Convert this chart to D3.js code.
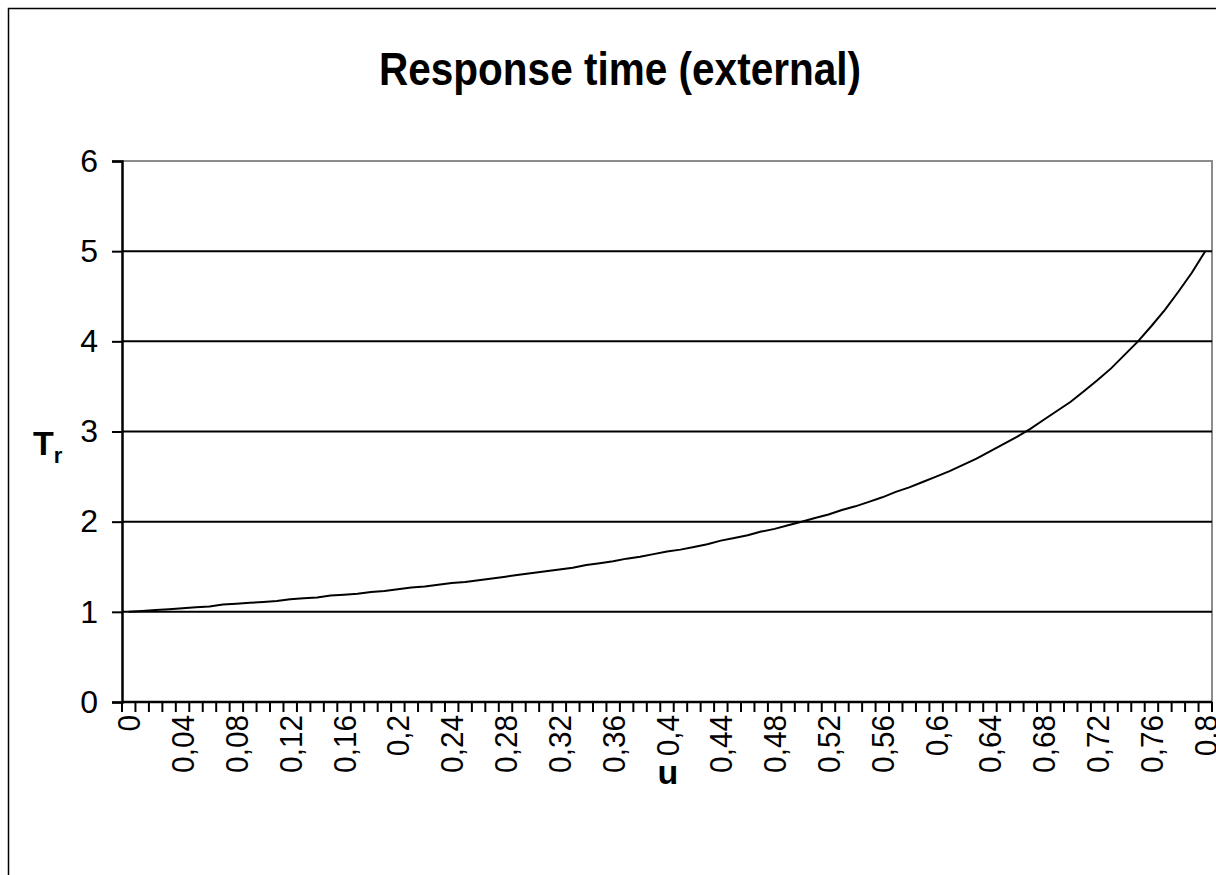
<!DOCTYPE html>
<html>
<head>
<meta charset="utf-8">
<script src="https://cdn.jsdelivr.net/npm/d3@7"></script>
<style>
  body { margin: 0; background: #fff; }
  svg { display: block; font-family: Arial, "Liberation Sans", sans-serif; }
</style>
</head>
<body>
<div id="chart"></div>
<script>
const utilisation = [
  0, 0.01, 0.02, 0.03, 0.04, 0.05, 0.06, 0.07, 0.08, 0.09,
  0.1, 0.11, 0.12, 0.13, 0.14, 0.15, 0.16, 0.17, 0.18, 0.19,
  0.2, 0.21, 0.22, 0.23, 0.24, 0.25, 0.26, 0.27, 0.28, 0.29,
  0.3, 0.31, 0.32, 0.33, 0.34, 0.35, 0.36, 0.37, 0.38, 0.39,
  0.4, 0.41, 0.42, 0.43, 0.44, 0.45, 0.46, 0.47, 0.48, 0.49,
  0.5, 0.51, 0.52, 0.53, 0.54, 0.55, 0.56, 0.57, 0.58, 0.59,
  0.6, 0.61, 0.62, 0.63, 0.64, 0.65, 0.66, 0.67, 0.68, 0.69,
  0.7, 0.71, 0.72, 0.73, 0.74, 0.75, 0.76, 0.77, 0.78, 0.79,
  0.8
];

const responseTime = [
  1.00, 1.01, 1.02, 1.03, 1.04, 1.05, 1.06, 1.08, 1.09, 1.10,
  1.11, 1.12, 1.14, 1.15, 1.16, 1.18, 1.19, 1.20, 1.22, 1.23,
  1.25, 1.27, 1.28, 1.30, 1.32, 1.33, 1.35, 1.37, 1.39, 1.41,
  1.43, 1.45, 1.47, 1.49, 1.52, 1.54, 1.56, 1.59, 1.61, 1.64,
  1.67, 1.69, 1.72, 1.75, 1.79, 1.82, 1.85, 1.89, 1.92, 1.96,
  2.00, 2.04, 2.08, 2.13, 2.17, 2.22, 2.27, 2.33, 2.38, 2.44,
  2.50, 2.56, 2.63, 2.70, 2.78, 2.86, 2.94, 3.03, 3.13, 3.23,
  3.33, 3.45, 3.57, 3.70, 3.85, 4.00, 4.17, 4.35, 4.55, 4.76,
  5.00
];

const yTicks = [0, 1, 2, 3, 4, 5, 6];
// only every fourth category gets a label
const xLabelled = utilisation.filter((d, i) => i % 4 === 0);

const width = 1216;
const height = 875;
const margin = { top: 161, right: 4, bottom: 173, left: 122 };

const svg = d3.select("#chart")
  .append("svg")
  .attr("width", width)
  .attr("height", height);

// chart area frame
svg.append("rect")
  .attr("x", 8.5).attr("y", 8.5)
  .attr("width", width + 20).attr("height", height + 20)
  .attr("fill", "none")
  .attr("stroke", "#000")
  .attr("stroke-width", 1.5);

const x = d3.scaleBand()
  .domain(utilisation)
  .range([margin.left, width - margin.right]);

const y = d3.scaleLinear()
  .domain([0, 6])
  .range([height - margin.bottom, margin.top]);

const fmt = (d) => String(d).replace(".", ",");

// plot area border (grey, top and right)
svg.append("path")
  .attr("d", `M${x.range()[0]},${y(6)}H${x.range()[1]}V${y(0)}`)
  .attr("fill", "none")
  .attr("stroke", "#8c8c8c")
  .attr("stroke-width", 2);

// gridlines
svg.append("g")
  .selectAll("line")
  .data(yTicks.filter((d) => d > 0 && d < 6))
  .join("line")
  .attr("x1", x.range()[0])
  .attr("x2", x.range()[1])
  .attr("y1", (d) => y(d))
  .attr("y2", (d) => y(d))
  .attr("stroke", "#000")
  .attr("stroke-width", 2);

// y axis
const yAxis = svg.append("g")
  .attr("transform", `translate(${margin.left},0)`)
  .call(d3.axisLeft(y).tickValues(yTicks).tickSize(10).tickPadding(14).tickFormat(d3.format("d")));
yAxis.select(".domain").attr("stroke-width", 2.5);
yAxis.selectAll(".tick line").attr("stroke-width", 2);
yAxis.selectAll("text")
  .attr("font-size", 32)
  .attr("font-family", null)
  .attr("fill", "#000");

// x axis: ticks between categories
const xg = svg.append("g")
  .attr("transform", `translate(0,${y(0)})`);
xg.append("line")
  .attr("x1", x.range()[0])
  .attr("x2", x.range()[1])
  .attr("stroke", "#000")
  .attr("stroke-width", 2.5);
xg.selectAll(".tk")
  .data(utilisation.concat(["end"]))
  .join("line")
  .attr("class", "tk")
  .attr("x1", (d) => (d === "end" ? x.range()[1] : x(d)))
  .attr("x2", (d) => (d === "end" ? x.range()[1] : x(d)))
  .attr("y1", 0)
  .attr("y2", 10)
  .attr("stroke", "#000")
  .attr("stroke-width", 2);
xg.selectAll(".lbl")
  .data(xLabelled)
  .join("text")
  .attr("class", "lbl")
  .attr("transform", (d) => `translate(${x(d) + x.bandwidth() / 2},13) rotate(-90) scale(0.93,1)`)
  .attr("text-anchor", "end")
  .attr("dy", "0.36em")
  .attr("font-size", 32)
  .text(fmt);

// series
const line = d3.line()
  .x((d, i) => x(utilisation[i]) + x.bandwidth() / 2)
  .y((d) => y(d));

svg.append("path")
  .datum(responseTime)
  .attr("fill", "none")
  .attr("stroke", "#000")
  .attr("stroke-width", 2)
  .attr("d", line);

// titles
svg.append("text")
  .attr("x", 620)
  .attr("y", 85)
  .attr("text-anchor", "middle")
  .attr("font-size", 46)
  .attr("font-weight", "bold")
  .attr("textLength", 482)
  .attr("lengthAdjust", "spacingAndGlyphs")
  .text("Response time (external)");

svg.append("text")
  .attr("x", 668)
  .attr("y", 784)
  .attr("text-anchor", "middle")
  .attr("font-size", 34)
  .attr("font-weight", "bold")
  .text("u");

const tr = svg.append("text")
  .attr("x", 33)
  .attr("y", 455)
  .attr("font-size", 34)
  .attr("font-weight", "bold");
tr.append("tspan").text("T");
tr.append("tspan").attr("font-size", 22).attr("dy", 8).text("r");
</script>
</body>
</html>
